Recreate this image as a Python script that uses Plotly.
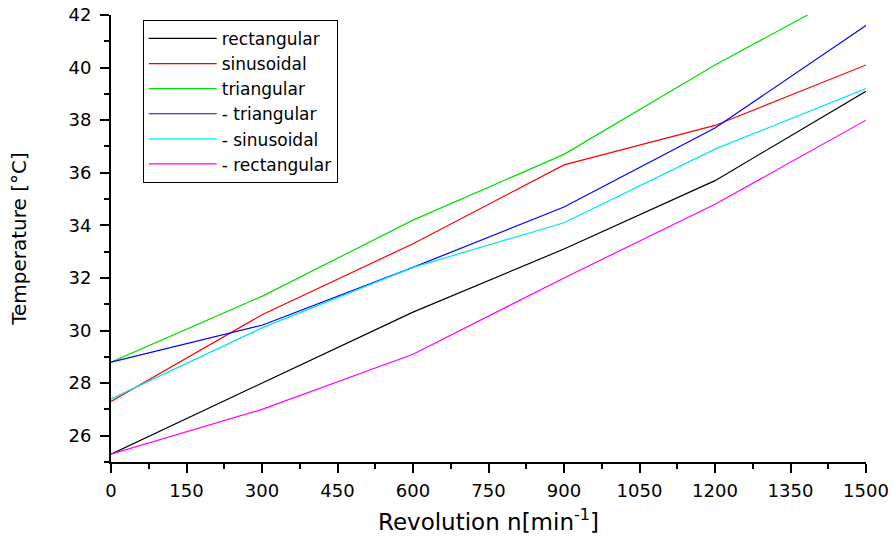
import plotly.graph_objects as go

revolution = [0, 300, 600, 900, 1200, 1500]
rectangular = [25.3, 28.0, 30.7, 33.1, 35.7, 39.1]
sinusoidal = [27.3, 30.6, 33.3, 36.3, 37.8, 40.1]
triangular = [28.8, 31.3, 34.2, 36.7, 40.1, 43.2]
neg_triangular = [28.8, 30.2, 32.4, 34.7, 37.7, 41.6]
neg_sinusoidal = [27.4, 30.1, 32.4, 34.1, 36.9, 39.2]
neg_rectangular = [25.3, 27.0, 29.1, 32.0, 34.8, 38.0]

series = [
    ("rectangular", rectangular, "#000000"),
    ("sinusoidal", sinusoidal, "#ff0000"),
    ("triangular", triangular, "#00e000"),
    ("- triangular", neg_triangular, "#0000ff"),
    ("- sinusoidal", neg_sinusoidal, "#00e5ee"),
    ("- rectangular", neg_rectangular, "#ff00ff"),
]

fig = go.Figure()
for name, ys, color in series:
    fig.add_trace(go.Scatter(x=revolution, y=ys, mode="lines", name=name,
                             line=dict(color=color, width=1.2)))

font_family = "DejaVu Sans, Arial, sans-serif"
fig.update_layout(
    width=893, height=538,
    margin=dict(l=111, r=27, t=15, b=76),
    plot_bgcolor="white", paper_bgcolor="white",
    font=dict(family=font_family, color="black"),
    legend=dict(x=0.042, y=0.989, xanchor="left", yanchor="top",
                bgcolor="white", bordercolor="black", borderwidth=1,
                font=dict(size=17, family=font_family), tracegroupgap=0,
                itemwidth=68),
    showlegend=True,
)
fig.update_xaxes(
    range=[0, 1500], tickvals=list(range(0, 1501, 150)), automargin=False,
    showgrid=False, zeroline=False, showline=True, linecolor="black", linewidth=2,
    ticks="outside", ticklen=9, tickwidth=2, tickcolor="black",
    tickfont=dict(size=18), ticklabelstandoff=2,
    minor=dict(dtick=75, tick0=0, ticks="outside", ticklen=5, tickwidth=2, tickcolor="black", showgrid=False),
    title=dict(text="Revolution n[min<sup>-1</sup>]", font=dict(size=23), standoff=14),
)
fig.update_yaxes(
    range=[25, 42], tickvals=list(range(26, 43, 2)), automargin=False,
    showgrid=False, zeroline=False, showline=True, linecolor="black", linewidth=2,
    ticks="outside", ticklen=9, tickwidth=2, tickcolor="black",
    tickfont=dict(size=18), ticklabelstandoff=5,
    minor=dict(dtick=1, tick0=25, ticks="outside", ticklen=5, tickwidth=2, tickcolor="black", showgrid=False),
    title=dict(text="Temperature [°C]", font=dict(size=20), standoff=36),
)

fig.write_html("out.html", config={"displayModeBar": False},
               post_script="document.body.style.margin='0';")
